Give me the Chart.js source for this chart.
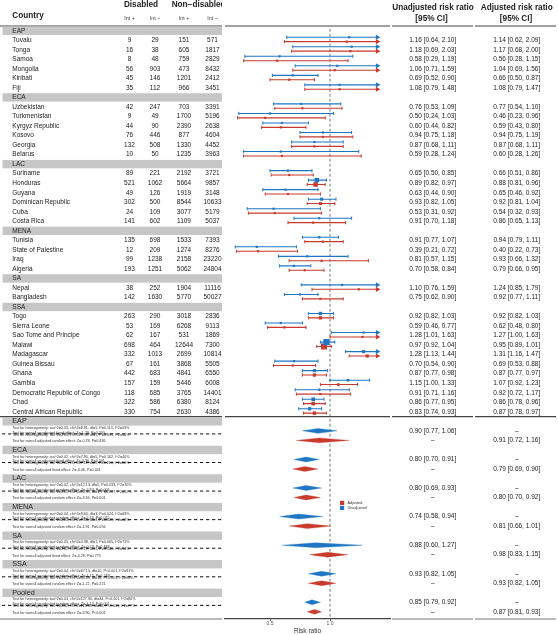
<!DOCTYPE html>
<html>
<head>
<meta charset="utf-8">
<title>Forest plot - risk ratio</title>
<script src="https://cdn.jsdelivr.net/npm/chart.js@4.4.1/dist/chart.umd.min.js"></script>
<style>
  html, body { margin: 0; padding: 0; background: #fff; }
  #wrap { width: 558px; height: 635px; position: relative; }
</style>
</head>
<body>
<div id="wrap"><canvas id="forest"></canvas></div>
<script>
// ---- data ----
const countries = ['Tuvalu', 'Tonga', 'Samoa', 'Mongolia', 'Kiribati', 'Fiji',
  'Uzbekistan', 'Turkmenistan', 'Kyrgyz Republic', 'Kosovo', 'Georgia', 'Belarus',
  'Suriname', 'Honduras', 'Guyana', 'Dominican Republic', 'Cuba', 'Costa Rica',
  'Tunisia', 'State of Palestine', 'Iraq', 'Algeria',
  'Nepal', 'Bangladesh',
  'Togo', 'Sierra Leone', 'Sao Tome and Principe', 'Malawi', 'Madagascar', 'Guinea Bissau',
  'Ghana', 'Gambia', 'Democratic Republic of Congo', 'Chad', 'Central African Republic'];
const region = ['EAP', 'EAP', 'EAP', 'EAP', 'EAP', 'EAP',
  'ECA', 'ECA', 'ECA', 'ECA', 'ECA', 'ECA',
  'LAC', 'LAC', 'LAC', 'LAC', 'LAC', 'LAC',
  'MENA', 'MENA', 'MENA', 'MENA',
  'SA', 'SA',
  'SSA', 'SSA', 'SSA', 'SSA', 'SSA', 'SSA', 'SSA', 'SSA', 'SSA', 'SSA', 'SSA'];

const disIntPlus = [9, 16, 8, 56, 45, 35, 42, 9, 44, 76, 132, 10, 89, 521, 49, 302, 24, 141,
  135, 12, 99, 193, 38, 142, 263, 53, 62, 698, 332, 67, 442, 157, 118, 322, 330];
const disIntMinus = [29, 38, 48, 903, 146, 112, 247, 49, 90, 446, 508, 50, 221, 1062, 126, 500, 109, 602,
  698, 209, 1238, 1251, 252, 1630, 290, 169, 167, 464, 1013, 161, 683, 159, 685, 586, 754];
const nonIntPlus = [151, 605, 759, 473, 1201, 966, 703, 1700, 2390, 877, 1330, 1235, 2192, 5664, 1919, 8544, 3077, 1109,
  1533, 1274, 2158, 5062, 1904, 5770, 3018, 6268, 531, 12644, 2699, 3868, 4841, 5446, 3765, 6380, 2630];
const nonIntMinus = [571, 1817, 2829, 8432, 2412, 3451, 3391, 5196, 2638, 4604, 4452, 3963, 3721, 9857, 3148, 10633, 5179, 5037,
  7393, 8276, 23220, 24804, 11116, 50027, 2836, 9113, 1869, 7300, 10814, 5505, 6550, 6008, 14401, 8124, 4386];

const unadjRR = [1.16, 1.18, 0.58, 1.06, 0.69, 1.08, 0.76, 0.50, 0.60, 0.94, 0.87, 0.59, 0.65, 0.89, 0.63, 0.93, 0.53, 0.91,
  0.91, 0.39, 0.81, 0.70, 1.10, 0.75, 0.92, 0.59, 1.28, 0.97, 1.28, 0.70, 0.87, 1.15, 0.91, 0.86, 0.83];
const unadjLo = [0.64, 0.69, 0.29, 0.71, 0.52, 0.79, 0.53, 0.24, 0.44, 0.75, 0.68, 0.28, 0.50, 0.82, 0.44, 0.82, 0.31, 0.70,
  0.77, 0.21, 0.57, 0.58, 0.76, 0.62, 0.82, 0.46, 1.01, 0.92, 1.13, 0.54, 0.77, 1.00, 0.71, 0.77, 0.74];
const unadjHi = [2.10, 2.03, 1.19, 1.59, 0.90, 1.48, 1.09, 1.03, 0.82, 1.18, 1.11, 1.24, 0.85, 0.97, 0.90, 1.05, 0.92, 1.18,
  1.07, 0.72, 1.15, 0.84, 1.59, 0.90, 1.03, 0.77, 1.63, 1.04, 1.44, 0.90, 0.98, 1.33, 1.16, 0.95, 0.93];

const adjRR = [1.14, 1.17, 0.56, 1.04, 0.66, 1.08, 0.77, 0.46, 0.59, 0.94, 0.87, 0.60, 0.66, 0.88, 0.65, 0.92, 0.54, 0.86,
  0.94, 0.40, 0.93, 0.79, 1.24, 0.92, 0.92, 0.62, 1.27, 0.95, 1.31, 0.69, 0.87, 1.07, 0.92, 0.86, 0.87];
const adjLo = [0.62, 0.68, 0.28, 0.69, 0.50, 0.79, 0.54, 0.23, 0.43, 0.75, 0.68, 0.28, 0.51, 0.81, 0.46, 0.81, 0.32, 0.65,
  0.79, 0.22, 0.66, 0.66, 0.85, 0.77, 0.82, 0.48, 1.00, 0.89, 1.16, 0.53, 0.77, 0.92, 0.72, 0.78, 0.78];
const adjHi = [2.09, 2.00, 1.15, 1.56, 0.87, 1.47, 1.10, 0.96, 0.80, 1.19, 1.11, 1.26, 0.86, 0.96, 0.92, 1.04, 0.93, 1.13,
  1.11, 0.73, 1.32, 0.95, 1.79, 1.11, 1.03, 0.80, 1.63, 1.01, 1.47, 0.88, 0.97, 1.23, 1.17, 0.96, 0.97];

// pooled estimates per region
const poolGroups = ['EAP', 'ECA', 'LAC', 'MENA', 'SA', 'SSA', 'Pooled'];
const poolUnadj = [0.90, 0.80, 0.80, 0.74, 0.88, 0.93, 0.85];
const poolUnadjLo = [0.77, 0.70, 0.69, 0.58, 0.60, 0.82, 0.79];
const poolUnadjHi = [1.06, 0.91, 0.93, 0.94, 1.27, 1.05, 0.92];
const poolAdj = [0.91, 0.79, 0.80, 0.81, 0.98, 0.93, 0.87];
const poolAdjLo = [0.72, 0.69, 0.70, 0.66, 0.83, 0.82, 0.81];
const poolAdjHi = [1.16, 0.90, 0.92, 1.01, 1.15, 1.05, 0.93];

const hetUnadj = [
  'Test for heterogeneity: tau^2=0.03, chi^2=8.91, df=5, P=0.113, I^2=43%',
  'Test for heterogeneity: tau^2=0.02, chi^2=7.90, df=5, P=0.162, I^2=40%',
  'Test for heterogeneity: tau^2=0.02, chi^2=12.13, df=5, P=0.033, I^2=70%',
  'Test for heterogeneity: tau^2=0.04, chi^2=9.60, df=3, P=0.024, I^2=69%',
  'Test for heterogeneity: tau^2=0.05, chi^2=3.38, df=1, P=0.065, I^2=71%',
  'Test for heterogeneity: tau^2=0.04, chi^2=67.10, df=10, P<0.001, I^2=91%',
  'Test for heterogeneity: tau^2=0.03, chi^2=127.90, df=34, P<0.001, I^2=80%'];
const effUnadj = [
  'Test for overall unadjusted fixed effect: Z=-1.29, P=0.200',
  'Test for overall unadjusted fixed effect: Z=-3.36, P=0.001',
  'Test for overall unadjusted random effect: Z=-2.84, P=0.004',
  'Test for overall unadjusted random effect: Z=-2.43, P=0.015',
  'Test for overall unadjusted random effect: Z=-0.70, P=0.483',
  'Test for overall unadjusted random effect: Z=-1.15, P=0.249',
  'Test for overall unadjusted random effect: Z=-4.13, P<0.001'];
const hetAdj = [
  'Test for heterogeneity: tau^2=0.04, chi^2=9.38, df=5, P=0.095, I^2=46%',
  'Test for heterogeneity: tau^2=0.02, chi^2=7.11, df=5, P=0.213, I^2=30%',
  'Test for heterogeneity: tau^2=0.01, chi^2=10.31, df=5, P=0.067, I^2=52%',
  'Test for heterogeneity: tau^2=0.03, chi^2=7.85, df=3, P=0.049, I^2=62%',
  'Test for heterogeneity: tau^2=0.02, chi^2=2.18, df=1, P=0.140, I^2=54%',
  'Test for heterogeneity: tau^2=0.03, chi^2=54.29, df=10, P<0.001, I^2=88%',
  'Test for heterogeneity: tau^2=0.02, chi^2=113.39, df=34, P<0.001, I^2=77%'];
const effAdj = [
  'Test for overall adjusted random effect: Z=-0.78, P=0.436',
  'Test for overall adjusted fixed effect: Z=-3.46, P=0.001',
  'Test for overall adjusted random effect: Z=-3.16, P=0.001',
  'Test for overall adjusted random effect: Z=-1.91, P=0.056',
  'Test for overall adjusted fixed effect: Z=-0.29, P=0.775',
  'Test for overall adjusted random effect: Z=-1.22, P=0.221',
  'Test for overall adjusted random effect: Z=-3.90, P<0.001'];

const xTicks = [0.5, 1.0];

// ---- colours / layout ----
const BLUE = '#1f77c4';
const RED = '#c83a2c';
const FONT = '"Liberation Sans", Arial, Helvetica, sans-serif';
const CAP = 1.40;        // right clipping of the CI lines (arrow beyond)

// row index for every line of the table
const countryRow = [];
const headerRows = [];
let r = 0, prev = null;
countries.forEach((c, i) => {
  if (region[i] !== prev) { headerRows.push({ label: region[i], row: r }); r++; prev = region[i]; }
  countryRow.push(r); r++;
});
const poolRow = poolGroups.map((g, k) => r + 3 * k);
const lastRow = poolRow[poolRow.length - 1] + 2;

// square size from CI width (weight-ish)
function sq(lo, hi) {
  const side = Math.max(2.2, Math.min(6.4, 0.76 / Math.log(hi / lo)));
  return side / Math.SQRT2;
}

function ciLine(lo, hi, off) {
  const pts = [];
  lo.forEach((l, i) => {
    const y = countryRow[i] + off;
    pts.push({ x: l, y: y }, { x: Math.min(hi[i], CAP), y: y }, { x: null, y: null });
  });
  return pts;
}
function caps(lo, hi, off) {
  const pts = [];
  lo.forEach((l, i) => {
    const y = countryRow[i] + off;
    pts.push({ x: l, y: y });
    if (hi[i] <= CAP) pts.push({ x: hi[i], y: y });
  });
  return pts;
}
function arrows(hi, off) {
  const pts = [];
  hi.forEach((h, i) => { if (h > CAP) pts.push({ x: CAP - 0.005, y: countryRow[i] + off }); });
  return pts;
}
function diamond(est, lo, hi, row, color) {
  return {
    data: [{ x: lo, y: row }, { x: est, y: row - 0.26 }, { x: hi, y: row }, { x: est, y: row + 0.26 }, { x: lo, y: row }],
    showLine: true, fill: 'shape', tension: 0,
    borderColor: color, backgroundColor: color, borderWidth: 0.3,
    pointRadius: 0, order: 1
  };
}

const OFF_B = -0.32, OFF_R = 0.14;

const datasets = [
  {
    label: 'Unadjusted', data: unadjRR.map((v, i) => ({ x: v, y: countryRow[i] + OFF_B })),
    pointStyle: 'rect', backgroundColor: BLUE, borderColor: BLUE, borderWidth: 0,
    pointRadius: unadjRR.map((v, i) => sq(unadjLo[i], unadjHi[i])), order: 0
  },
  {
    label: 'Adjusted', data: adjRR.map((v, i) => ({ x: v, y: countryRow[i] + OFF_R })),
    pointStyle: 'rect', backgroundColor: RED, borderColor: RED, borderWidth: 0,
    pointRadius: adjRR.map((v, i) => sq(adjLo[i], adjHi[i])), order: 0
  },
  { data: ciLine(unadjLo, unadjHi, OFF_B), showLine: true, borderColor: BLUE, borderWidth: 1.1, pointRadius: 0, order: 2 },
  { data: ciLine(adjLo, adjHi, OFF_R), showLine: true, borderColor: RED, borderWidth: 1.1, pointRadius: 0, order: 2 },
  { data: caps(unadjLo, unadjHi, OFF_B), pointStyle: 'line', rotation: 90, pointRadius: 1.6, borderColor: BLUE, pointBorderWidth: 1, order: 2 },
  { data: caps(adjLo, adjHi, OFF_R), pointStyle: 'line', rotation: 90, pointRadius: 1.6, borderColor: RED, pointBorderWidth: 1, order: 2 },
  { data: arrows(unadjHi, OFF_B), pointStyle: 'triangle', rotation: 90, pointRadius: 3, backgroundColor: BLUE, borderColor: BLUE, borderWidth: 0, order: 2 },
  { data: arrows(adjHi, OFF_R), pointStyle: 'triangle', rotation: 90, pointRadius: 3, backgroundColor: RED, borderColor: RED, borderWidth: 0, order: 2 },
  {
    data: [{ x: 1, y: -0.2 }, { x: 1, y: lastRow + 0.75 }], showLine: true,
    borderColor: '#8f8f8f', borderWidth: 1.2, borderDash: [3, 2], pointRadius: 0, order: 9
  }
];
poolGroups.forEach((g, k) => {
  datasets.push(diamond(poolUnadj[k], poolUnadjLo[k], poolUnadjHi[k], poolRow[k] + 1, BLUE));
  datasets.push(diamond(poolAdj[k], poolAdjLo[k], poolAdjHi[k], poolRow[k] + 2, RED));
});

// ---- table text, bands, rules, legend ----
function put(ctx, s, x, y, size, opts) {
  opts = opts || {};
  ctx.font = (opts.bold ? 'bold ' : '') + size + 'px ' + FONT;
  ctx.fillStyle = opts.color || '#222';
  ctx.textAlign = opts.align || 'left';
  ctx.textBaseline = 'middle';
  ctx.fillText(s, x, y);
}
const fmt = (e, l, h) => e.toFixed(2) + ' [' + l.toFixed(2) + ', ' + h.toFixed(2) + ']';

const tablePlugin = {
  id: 'tableText',
  afterDraw(chart) {
    const ctx = chart.ctx;
    const Y = v => chart.scales.y.getPixelForValue(v);
    const colX = [129.5, 155, 184, 212.5];
    const UX = 432.7, AX = 516.7;
    ctx.save();

    // rules
    const segs = [[0, 222], [225, 390], [392, 473], [475, 556]];
    ctx.strokeStyle = '#444';
    ctx.lineWidth = 1.2;
    [Y(-0.5), Y(40.5)].forEach(y => {
      segs.forEach(s => { ctx.beginPath(); ctx.moveTo(s[0], y); ctx.lineTo(s[1], y); ctx.stroke(); });
    });
    ctx.strokeStyle = '#777';
    ctx.lineWidth = 1;
    const yb = Y(lastRow + 0.75);
    [[0, 222], [392, 473], [475, 556]].forEach(s => {
      ctx.beginPath(); ctx.moveTo(s[0], yb); ctx.lineTo(s[1], yb); ctx.stroke();
    });

    // table part clipped to its column block
    ctx.save();
    ctx.beginPath(); ctx.rect(0, 0, 222, 635); ctx.clip();
    ctx.fillStyle = '#c6c6c6';
    headerRows.forEach(h => ctx.fillRect(2.5, Y(h.row) - 4.2, 219.5, 8.4));
    poolRow.forEach(p => ctx.fillRect(2.5, Y(p) - 4.2, 219.5, 8.4));

    put(ctx, 'Country', 12.3, 16, 8.2, { bold: true });
    put(ctx, 'Disabled', 141, 5, 8.2, { bold: true, align: 'center' });
    put(ctx, 'Non\u2212disabled', 171.7, 5, 8.2, { bold: true });
    ['Int +', 'Int \u2212', 'Int +', 'Int \u2212'].forEach((s, j) => put(ctx, s, colX[j], 18.3, 5.4, { align: 'center', color: '#444' }));

    headerRows.forEach(h => put(ctx, h.label, 12.3, Y(h.row), 6.5));
    countries.forEach((c, i) => {
      const y = Y(countryRow[i]);
      put(ctx, c, 12.3, y, 6.5);
      [disIntPlus[i], disIntMinus[i], nonIntPlus[i], nonIntMinus[i]].forEach((v, j) =>
        put(ctx, String(v), colX[j], y, 6.5, { align: 'center' }));
    });

    poolGroups.forEach((g, k) => {
      const p = poolRow[k];
      put(ctx, g, 12.3, Y(p), 7.2);
      put(ctx, hetUnadj[k], 12.3, Y(p + 0.69), 3.7, { color: '#333' });
      put(ctx, effUnadj[k], 12.3, Y(p + 1.19), 3.7, { color: '#333' });
      put(ctx, hetAdj[k], 12.3, Y(p + 1.40), 3.7, { color: '#333' });
      put(ctx, effAdj[k], 12.3, Y(p + 2.09), 3.7, { color: '#333' });
      ctx.strokeStyle = '#111';
      ctx.lineWidth = 1;
      ctx.setLineDash([3.3, 2.7]);
      ctx.beginPath(); ctx.moveTo(2, Y(p + 1.32)); ctx.lineTo(222, Y(p + 1.32)); ctx.stroke();
      ctx.setLineDash([]);
    });
    ctx.restore();

    // right-hand columns
    put(ctx, 'Unadjusted risk ratio', 433, 7.3, 8.2, { bold: true, align: 'center' });
    put(ctx, '[95% CI]', 431.5, 19, 8.2, { bold: true, align: 'center' });
    put(ctx, 'Adjusted risk ratio', 516.7, 7.3, 8.2, { bold: true, align: 'center' });
    put(ctx, '[95% CI]', 516, 19, 8.2, { bold: true, align: 'center' });
    countries.forEach((c, i) => {
      const y = Y(countryRow[i]);
      put(ctx, fmt(unadjRR[i], unadjLo[i], unadjHi[i]), UX, y, 6.5, { align: 'center' });
      put(ctx, fmt(adjRR[i], adjLo[i], adjHi[i]), AX, y, 6.5, { align: 'center' });
    });
    poolGroups.forEach((g, k) => {
      const p = poolRow[k];
      put(ctx, fmt(poolUnadj[k], poolUnadjLo[k], poolUnadjHi[k]), UX, Y(p + 1), 6.5, { align: 'center' });
      put(ctx, '\u2013', AX, Y(p + 1), 6.5, { align: 'center' });
      put(ctx, '\u2013', UX, Y(p + 2), 6.5, { align: 'center' });
      put(ctx, fmt(poolAdj[k], poolAdjLo[k], poolAdjHi[k]), AX, Y(p + 2), 6.5, { align: 'center' });
    });

    // legend
    ctx.fillStyle = RED; ctx.fillRect(340, 500.8, 4.2, 4.2);
    ctx.fillStyle = BLUE; ctx.fillRect(340, 505.8, 4.2, 4.2);
    put(ctx, 'Adjusted', 347.5, 503, 3.8, { color: '#333' });
    put(ctx, 'Unadjusted', 347.5, 508, 3.8, { color: '#333' });
    ctx.restore();
  }
};

new Chart(document.getElementById('forest'), {
  type: 'scatter',
  data: { datasets: datasets },
  options: {
    responsive: true,
    maintainAspectRatio: false,
    animation: false,
    events: [],
    layout: { padding: { left: 225, right: 168, top: 26, bottom: 0 } },
    plugins: { legend: { display: false }, tooltip: { enabled: false } },
    scales: {
      x: {
        type: 'linear', min: 0.125, max: 1.5,
        afterBuildTicks: s => { s.ticks = xTicks.map(v => ({ value: v })); },
        afterFit: s => { s.height = 16; },
        ticks: { callback: v => Number(v).toFixed(1), font: { size: 5, family: FONT }, color: '#555', padding: 0, maxRotation: 0 },
        grid: { display: true, drawOnChartArea: false, drawTicks: true, tickLength: 2, color: '#555' },
        border: { display: true, color: '#444', width: 1.2 },
        title: { display: true, text: 'Risk ratio', font: { size: 6.5, family: FONT }, color: '#333', padding: 0 }
      },
      y: {
        type: 'linear', reverse: true, min: -0.5, max: lastRow + 0.75, display: false
      }
    }
  },
  plugins: [tablePlugin]
});
</script>
</body>
</html>
